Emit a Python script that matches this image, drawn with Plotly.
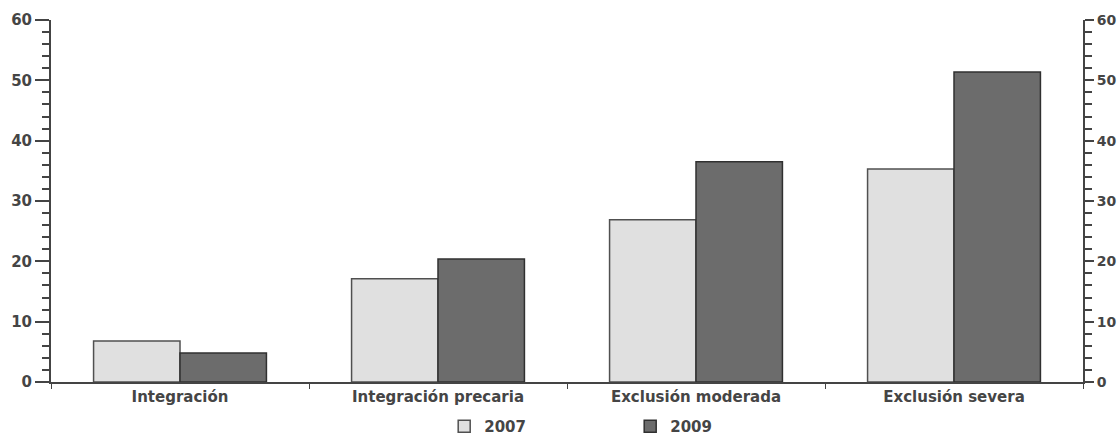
import plotly.graph_objects as go

categories = ["Integración", "Integración precaria", "Exclusión moderada", "Exclusión severa"]
values_2007 = [6.8, 17.1, 26.9, 35.3]
values_2009 = [4.8, 20.4, 36.5, 51.4]
y_ticks = [0, 10, 20, 30, 40, 50, 60]

fig = go.Figure()
fig.add_trace(go.Bar(x=categories, y=values_2007, name="2007",
                     marker=dict(color="#e0e0e0", line=dict(color="#505050", width=1.5))))
fig.add_trace(go.Bar(x=categories, y=values_2009, name="2009",
                     marker=dict(color="#6c6c6c", line=dict(color="#303030", width=1.5))))
fig.add_trace(go.Scatter(x=[categories[0]], y=[None], yaxis="y2", showlegend=False, hoverinfo="skip"))

font = dict(family="DejaVu Sans, Arial, sans-serif", size=15, weight="bold", color="#454545")
yax = dict(range=[0, 60], tickvals=y_ticks, ticks="outside", ticklen=14, tickwidth=1.5,
           tickcolor="#444444", showline=True, linecolor="#444444", linewidth=2,
           showgrid=False, zeroline=False, tickfont=font, automargin=False,
           minor=dict(dtick=2, ticks="outside", ticklen=7, tickcolor="#444444", tickwidth=1.5))
yax2 = dict(yax, overlaying="y", side="right", matches="y", ticklen=9,
            tickfont=dict(font, size=14))

fig.update_layout(
    width=1120, height=437,
    margin=dict(l=51, r=37, t=20, b=55),
    plot_bgcolor="white", paper_bgcolor="white",
    barmode="group", bargap=0.33, bargroupgap=0,
    font=font,
    xaxis=dict(showline=True, linecolor="#444444", linewidth=2, tickson="boundaries",
               ticks="outside", ticklen=5, tickcolor="#444444", showgrid=False, tickfont=font,
               automargin=False),
    yaxis=yax,
    yaxis2=yax2,
    legend=dict(orientation="h", x=0.381, xanchor="left", y=0.024, yref="container",
                yanchor="middle", entrywidth=141, entrywidthmode="pixels", font=font,
                bgcolor="rgba(0,0,0,0)"),
)

fig.write_html("out.html", config={"displayModeBar": False},
               post_script="document.body.style.margin='0';document.body.style.overflow='hidden';")
